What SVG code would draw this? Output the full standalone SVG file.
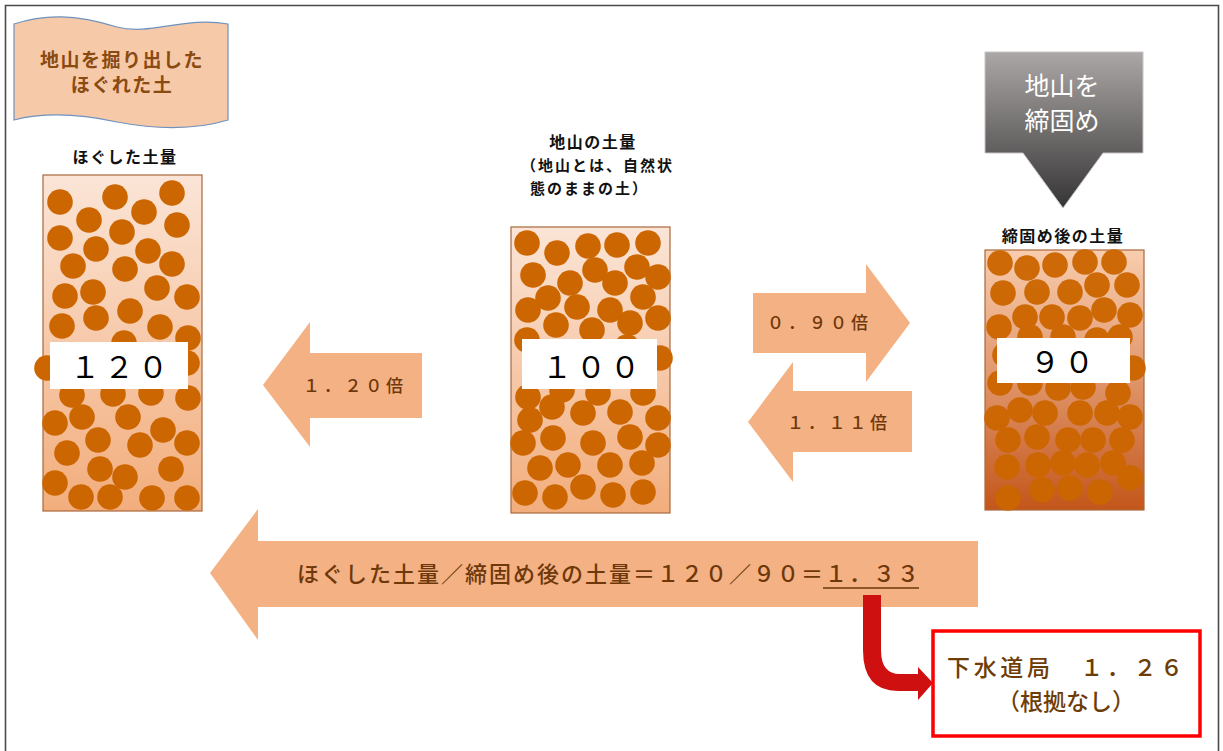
<svg xmlns="http://www.w3.org/2000/svg" width="1223" height="751" viewBox="0 0 1223 751">
  <defs>
    <linearGradient id="soilLight" x1="0" y1="0" x2="0" y2="1">
      <stop offset="0" stop-color="#fbe5d7"/>
      <stop offset="1" stop-color="#f2ad7c"/>
    </linearGradient>
    <linearGradient id="soilDense" x1="0" y1="0" x2="0" y2="1">
      <stop offset="0" stop-color="#f8cdae"/>
      <stop offset="0.5" stop-color="#e0956a"/>
      <stop offset="1" stop-color="#c3561a"/>
    </linearGradient>
    <linearGradient id="press" x1="0" y1="0" x2="0" y2="1">
      <stop offset="0" stop-color="#aba7a6"/>
      <stop offset="1" stop-color="#363535"/>
    </linearGradient>
  </defs>
  <style>
    .jp { font-family: "Noto Sans CJK JP", "Noto Sans CJK SC", sans-serif; }
    .cap { font-size: 16px; font-weight: 700; fill: #111; letter-spacing: 1.5px; }
    .cap2 { font-size: 15px; letter-spacing: 2px; }
    .box { stroke: #a8683c; stroke-width: 1.2; }
    .grains circle { fill: #cc6600; }
    .tag { fill: #ffffff; }
    .num { font-size: 30px; fill: #000; font-weight: 400; text-anchor: middle; letter-spacing: 4px; }
    .flow { fill: #f4b183; }
    .flowtxt { font-size: 17px; fill: #6e380a; font-weight: 500; }
    .note { font-size: 23px; fill: #6e3d06; font-weight: 500; }
  </style>

  <!-- outer frame -->
  <path d="M5.5,760 V5.5 H1218.5 V760" fill="none" stroke="#4a4a4a" stroke-width="1.6"/>

  <!-- banner: excavated, loosened soil -->
  <g id="banner">
    <path d="M14,24 C45,14 75,14 117,27 C150,36 185,16 228,24 L228,120 C195,130 160,130 117,122 C80,114 45,112 14,120 Z" fill="#f6c9a9" stroke="#6f93c0" stroke-width="1.2"/>
    <text class="jp" x="122" y="67" font-size="19" font-weight="700" fill="#8a4b12" text-anchor="middle" letter-spacing="1.5">地山を掘り出した</text>
    <text class="jp" x="122" y="92" font-size="19" font-weight="700" fill="#8a4b12" text-anchor="middle" letter-spacing="1.5">ほぐれた土</text>
  </g>

  <!-- loosened soil volume -->
  <g id="loose">
    <text class="jp cap" x="125" y="163" text-anchor="middle">ほぐした土量</text>
    <rect class="box" x="43" y="175" width="159" height="336" fill="url(#soilLight)"/>
    <g class="grains">
      <circle cx="60" cy="202" r="12.8"/><circle cx="115" cy="197" r="12.8"/><circle cx="172" cy="193" r="12.8"/>
      <circle cx="89" cy="220" r="12.8"/><circle cx="144" cy="212" r="12.8"/><circle cx="177" cy="225" r="12.8"/>
      <circle cx="60" cy="238" r="12.8"/><circle cx="122" cy="232" r="12.8"/><circle cx="96" cy="249" r="12.8"/>
      <circle cx="148" cy="251" r="12.8"/><circle cx="73" cy="266" r="12.8"/><circle cx="125" cy="269" r="12.8"/>
      <circle cx="172" cy="264" r="12.8"/><circle cx="65" cy="296" r="12.8"/><circle cx="93" cy="292" r="12.8"/>
      <circle cx="157" cy="288" r="12.8"/><circle cx="187" cy="297" r="12.8"/><circle cx="62" cy="326" r="12.8"/>
      <circle cx="96" cy="318" r="12.8"/><circle cx="130" cy="311" r="12.8"/><circle cx="160" cy="327" r="12.8"/>
      <circle cx="188" cy="338" r="12.8"/><circle cx="124" cy="343" r="12.8"/><circle cx="47" cy="368" r="12.8"/>
      <circle cx="187" cy="363" r="12.8"/><circle cx="72" cy="395" r="12.8"/><circle cx="113" cy="394" r="12.8"/>
      <circle cx="151" cy="393" r="12.8"/><circle cx="188" cy="398" r="12.8"/><circle cx="55" cy="423" r="12.8"/>
      <circle cx="82" cy="417" r="12.8"/><circle cx="128" cy="417" r="12.8"/><circle cx="163" cy="430" r="12.8"/>
      <circle cx="98" cy="440" r="12.8"/><circle cx="140" cy="445" r="12.8"/><circle cx="187" cy="443" r="12.8"/>
      <circle cx="67" cy="453" r="12.8"/><circle cx="100" cy="469" r="12.8"/><circle cx="125" cy="477" r="12.8"/>
      <circle cx="171" cy="469" r="12.8"/><circle cx="55" cy="483" r="12.8"/><circle cx="81" cy="497" r="12.8"/>
      <circle cx="110" cy="497" r="12.8"/><circle cx="152" cy="498" r="12.8"/><circle cx="187" cy="498" r="12.8"/>
    </g>
    <rect class="tag" x="50" y="342" width="138" height="47"/>
    <text class="jp num" x="121" y="378">１２０</text>
  </g>

  <!-- natural ground volume -->
  <g id="natural">
    <text class="jp cap" x="593" y="148" text-anchor="middle">地山の土量</text>
    <text class="jp cap cap2" x="521" y="171">（地山とは、自然状</text>
    <text class="jp cap cap2" x="530" y="194">態のままの土）</text>
    <rect class="box" x="511" y="227" width="159" height="286" fill="url(#soilLight)"/>
    <g class="grains">
      <circle cx="527" cy="243" r="12.8"/><circle cx="557" cy="253" r="12.8"/><circle cx="588" cy="246" r="12.8"/>
      <circle cx="617" cy="245" r="12.8"/><circle cx="648" cy="243" r="12.8"/><circle cx="533" cy="275" r="12.8"/>
      <circle cx="570" cy="283" r="12.8"/><circle cx="595" cy="270" r="12.8"/><circle cx="615" cy="283" r="12.8"/>
      <circle cx="637" cy="267" r="12.8"/><circle cx="658" cy="277" r="12.8"/><circle cx="548" cy="298" r="12.8"/>
      <circle cx="577" cy="307" r="12.8"/><circle cx="528" cy="310" r="12.8"/><circle cx="610" cy="310" r="12.8"/>
      <circle cx="643" cy="297" r="12.8"/><circle cx="556" cy="325" r="12.8"/><circle cx="592" cy="330" r="12.8"/>
      <circle cx="630" cy="323" r="12.8"/><circle cx="658" cy="318" r="12.8"/><circle cx="527" cy="340" r="12.8"/>
      <circle cx="627" cy="347" r="12.8"/><circle cx="660" cy="358" r="12.8"/><circle cx="528" cy="397" r="12.8"/>
      <circle cx="562" cy="390" r="12.8"/><circle cx="598" cy="393" r="12.8"/><circle cx="643" cy="393" r="12.8"/>
      <circle cx="530" cy="420" r="12.8"/><circle cx="552" cy="407" r="12.8"/><circle cx="583" cy="413" r="12.8"/>
      <circle cx="620" cy="412" r="12.8"/><circle cx="658" cy="418" r="12.8"/><circle cx="523" cy="443" r="12.8"/>
      <circle cx="553" cy="438" r="12.8"/><circle cx="593" cy="443" r="12.8"/><circle cx="630" cy="437" r="12.8"/>
      <circle cx="658" cy="445" r="12.8"/><circle cx="540" cy="468" r="12.8"/><circle cx="568" cy="465" r="12.8"/>
      <circle cx="610" cy="465" r="12.8"/><circle cx="642" cy="463" r="12.8"/><circle cx="525" cy="493" r="12.8"/>
      <circle cx="555" cy="497" r="12.8"/><circle cx="583" cy="487" r="12.8"/><circle cx="613" cy="495" r="12.8"/>
      <circle cx="643" cy="492" r="12.8"/>
    </g>
    <rect class="tag" x="522" y="339" width="135" height="50"/>
    <text class="jp num" x="593" y="378">１００</text>
  </g>

  <!-- compaction press -->
  <g id="compact">
    <path d="M985,52 H1143 V153 H1103 L1063,208 L1023,153 H985 Z" fill="url(#press)" stroke="#c8c4c2" stroke-width="1"/>
    <text class="jp" x="1062" y="95" font-size="25" fill="#ffffff" text-anchor="middle">地山を</text>
    <text class="jp" x="1062" y="130" font-size="25" fill="#ffffff" text-anchor="middle">締固め</text>
  </g>

  <!-- compacted soil volume -->
  <g id="compacted">
    <text class="jp cap" x="1063" y="242" text-anchor="middle">締固め後の土量</text>
    <rect class="box" x="985" y="250" width="159" height="260" fill="url(#soilDense)"/>
    <g class="grains" opacity="0.96">
      <circle cx="1000" cy="263" r="12.8"/><circle cx="1027" cy="268" r="12.8"/><circle cx="1055" cy="265" r="12.8"/>
      <circle cx="1085" cy="262" r="12.8"/><circle cx="1114" cy="262" r="12.8"/><circle cx="1003" cy="293" r="12.8"/>
      <circle cx="1037" cy="292" r="12.8"/><circle cx="1070" cy="292" r="12.8"/><circle cx="1097" cy="285" r="12.8"/>
      <circle cx="1127" cy="285" r="12.8"/><circle cx="1025" cy="317" r="12.8"/><circle cx="1052" cy="317" r="12.8"/>
      <circle cx="1080" cy="318" r="12.8"/><circle cx="1104" cy="310" r="12.8"/><circle cx="1130" cy="315" r="12.8"/>
      <circle cx="999" cy="327" r="12.8"/><circle cx="1030" cy="337" r="12.8"/><circle cx="1063" cy="337" r="12.8"/>
      <circle cx="1097" cy="340" r="12.8"/><circle cx="1120" cy="337" r="12.8"/><circle cx="1005" cy="355" r="12.8"/>
      <circle cx="1133" cy="368" r="12.8"/><circle cx="1000" cy="383" r="12.8"/><circle cx="1030" cy="383" r="12.8"/>
      <circle cx="1058" cy="388" r="12.8"/><circle cx="1083" cy="387" r="12.8"/><circle cx="1118" cy="393" r="12.8"/>
      <circle cx="997" cy="418" r="12.8"/><circle cx="1020" cy="410" r="12.8"/><circle cx="1045" cy="413" r="12.8"/>
      <circle cx="1080" cy="413" r="12.8"/><circle cx="1107" cy="413" r="12.8"/><circle cx="1130" cy="417" r="12.8"/>
      <circle cx="1008" cy="440" r="12.8"/><circle cx="1037" cy="437" r="12.8"/><circle cx="1068" cy="440" r="12.8"/>
      <circle cx="1093" cy="440" r="12.8"/><circle cx="1122" cy="440" r="12.8"/><circle cx="1007" cy="467" r="12.8"/>
      <circle cx="1038" cy="465" r="12.8"/><circle cx="1063" cy="463" r="12.8"/><circle cx="1087" cy="465" r="12.8"/>
      <circle cx="1113" cy="463" r="12.8"/><circle cx="1130" cy="478" r="12.8"/><circle cx="1008" cy="498" r="12.8"/>
      <circle cx="1042" cy="490" r="12.8"/><circle cx="1070" cy="488" r="12.8"/><circle cx="1100" cy="492" r="12.8"/>
    </g>
    <rect class="tag" x="997" y="338" width="133" height="45"/>
    <text class="jp num" x="1064" y="373">９０</text>
  </g>

  <!-- conversion arrows -->
  <g id="connectors">
    <g id="arrow-120">
      <path class="flow" d="M422,353 V418 H310 V447 L263,385 L310,322 V353 Z"/>
      <text class="jp flowtxt" x="303" y="392" textLength="100" lengthAdjust="spacing">１．２０倍</text>
    </g>
    <g id="arrow-090">
      <path class="flow" d="M753,293 H866 V264 L910,323 L866,382 V353 H753 Z"/>
      <text class="jp flowtxt" x="767" y="329" textLength="101" lengthAdjust="spacing">０．９０倍</text>
    </g>
    <g id="arrow-111">
      <path class="flow" d="M912,391 V452 H793 V482 L748,422 L793,362 V391 Z"/>
      <text class="jp flowtxt" x="787" y="429" textLength="100" lengthAdjust="spacing">１．１１倍</text>
    </g>
    <g id="arrow-total">
      <path class="flow" d="M978,541 V607 H258 V640 L210,573 L258,509 V541 Z"/>
      <text class="jp" x="297" y="582" font-size="22" fill="#6e380a" font-weight="500" textLength="622" lengthAdjust="spacing">ほぐした土量／締固め後の土量＝１２０／９０＝１．３３</text>
      <line x1="823" y1="588" x2="919" y2="588" stroke="#6e380a" stroke-width="1.3"/>
    </g>
    <g id="arrow-bureau">
      <path d="M863,595 H881 V650 Q881,674 900,674 H918 V667 L933,683 L918,700 V691 H898 Q863,691 863,650 Z" fill="#cf1010"/>
    </g>
  </g>

  <!-- sewerage bureau value -->
  <g id="bureau">
    <rect x="933" y="631" width="267" height="105" fill="#ffffff" stroke="#ff0000" stroke-width="3.5"/>
    <text class="jp note" x="947" y="676" textLength="236" lengthAdjust="spacing">下水道局　１．２６</text>
    <text class="jp note" x="1066" y="710" text-anchor="middle">（根拠なし）</text>
  </g>
</svg>
